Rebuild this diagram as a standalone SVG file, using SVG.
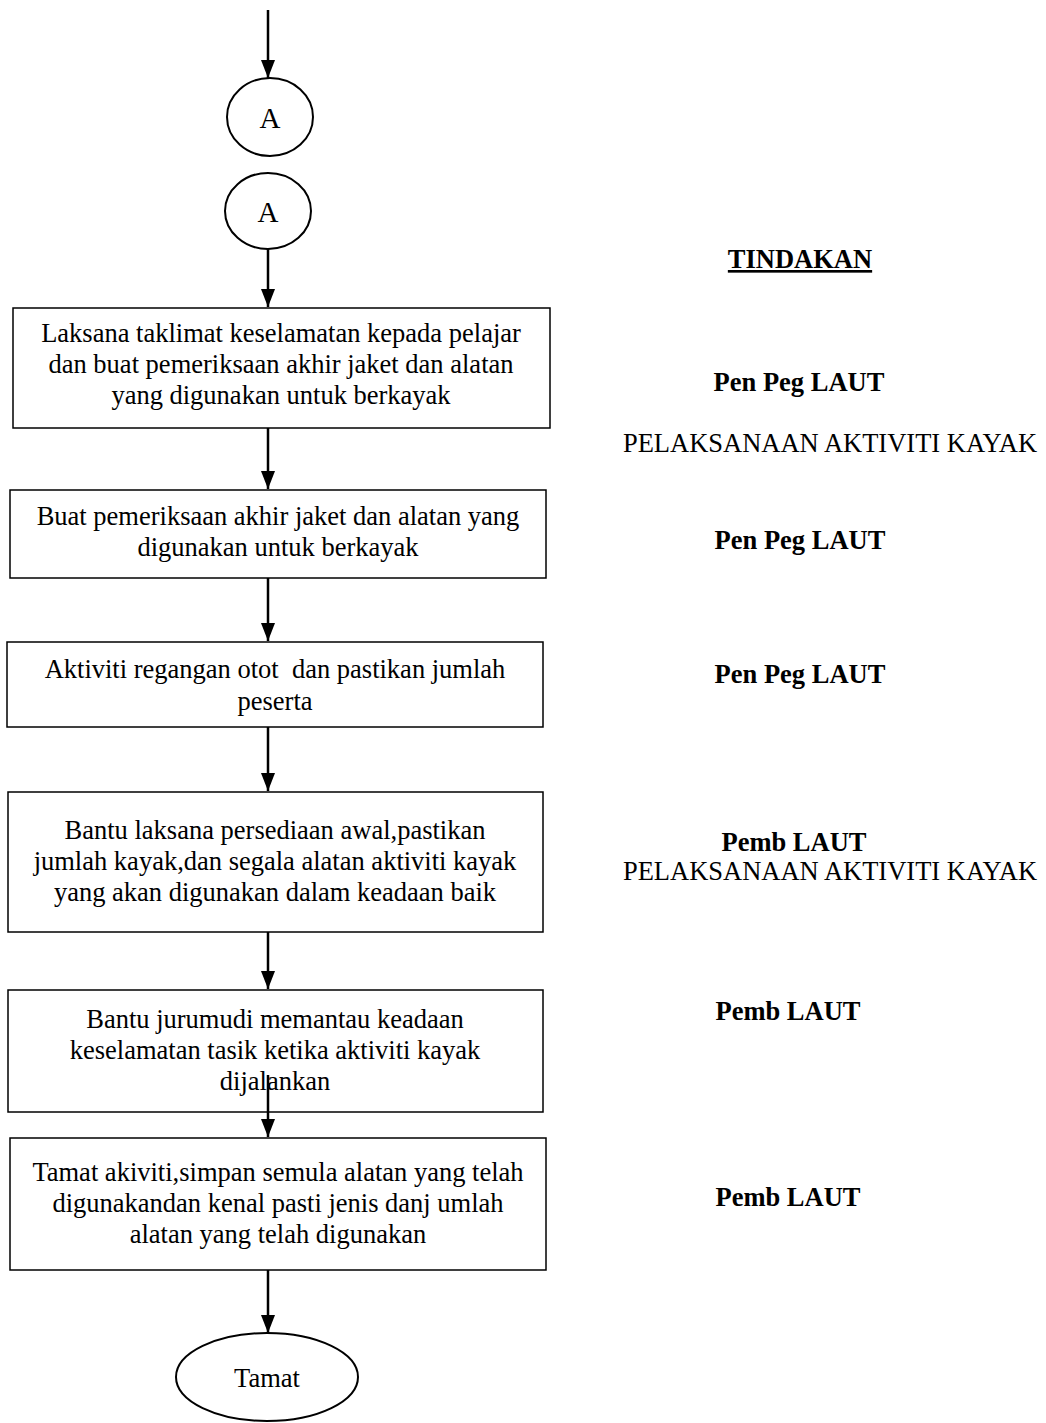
<svg xmlns="http://www.w3.org/2000/svg" width="1046" height="1423" viewBox="0 0 1046 1423">
<style>
text{font-family:"Liberation Serif","Times New Roman",serif;font-size:26.5px;fill:#000}
.c{text-anchor:middle}
.b{font-weight:bold}
.pre{white-space:pre}
.box{fill:#fff;stroke:#000;stroke-width:1.5}
.ell{fill:#fff;stroke:#000;stroke-width:2}
.con line{stroke:#000;stroke-width:2.5}
</style>
<defs>
<marker id="ah" viewBox="0 0 18 14" refX="18" refY="7" markerWidth="18" markerHeight="14" markerUnits="userSpaceOnUse" orient="auto">
<path d="M0,0 L18,7 L0,14 Z" fill="#000"/>
</marker>
</defs>
<rect width="1046" height="1423" fill="#fff"/>
<g id="nodeA1"><ellipse class="ell" cx="270" cy="117" rx="43" ry="39"/><text class="c" x="270" y="128" style="font-size:29px">A</text></g>
<g id="nodeA2"><ellipse class="ell" cx="268" cy="211" rx="43" ry="38"/><text class="c" x="268" y="222" style="font-size:29px">A</text></g>
<g id="box1"><rect class="box" x="13" y="308" width="537" height="120"/>
<text class="c" x="281" y="342">Laksana taklimat keselamatan kepada pelajar</text>
<text class="c" x="281" y="373">dan buat pemeriksaan akhir jaket dan alatan</text>
<text class="c" x="281" y="404">yang digunakan untuk berkayak</text></g>
<g id="box2"><rect class="box" x="10" y="490" width="536" height="88"/>
<text class="c" x="278" y="525">Buat pemeriksaan akhir jaket dan alatan yang</text>
<text class="c" x="278" y="556">digunakan untuk berkayak</text></g>
<g id="box3"><rect class="box" x="7" y="642" width="536" height="85"/>
<text class="c pre" x="275" y="678">Aktiviti regangan otot  dan pastikan jumlah</text>
<text class="c" x="275" y="710">peserta</text></g>
<g id="box4"><rect class="box" x="8" y="792" width="535" height="140"/>
<text class="c" x="275" y="839">Bantu laksana persediaan awal,pastikan</text>
<text class="c" x="275" y="870">jumlah kayak,dan segala alatan aktiviti kayak</text>
<text class="c" x="275" y="901">yang akan digunakan dalam keadaan baik</text></g>
<g id="box5"><rect class="box" x="8" y="990" width="535" height="122"/>
<text class="c" x="275" y="1028">Bantu jurumudi memantau keadaan</text>
<text class="c" x="275" y="1059">keselamatan tasik ketika aktiviti kayak</text>
<text class="c" x="275" y="1090">dijalankan</text></g>
<g id="box6"><rect class="box" x="10" y="1138" width="536" height="132"/>
<text class="c" x="278" y="1181">Tamat akiviti,simpan semula alatan yang telah</text>
<text class="c" x="278" y="1212">digunakandan kenal pasti jenis danj umlah</text>
<text class="c" x="278" y="1243">alatan yang telah digunakan</text></g>
<g id="nodeTamat"><ellipse class="ell" cx="267" cy="1377" rx="91" ry="44"/><text class="c" x="267" y="1387">Tamat</text></g>
<g id="labels">
<text class="c b" x="800" y="268" text-decoration="underline">TINDAKAN</text>
<text class="c b" x="799" y="391">Pen Peg LAUT</text>
<text class="c" x="830" y="452">PELAKSANAAN AKTIVITI KAYAK</text>
<text class="c b" x="800" y="549">Pen Peg LAUT</text>
<text class="c b" x="800" y="683">Pen Peg LAUT</text>
<text class="c b" x="794" y="851">Pemb LAUT</text>
<text class="c" x="830" y="880">PELAKSANAAN AKTIVITI KAYAK</text>
<text class="c b" x="788" y="1020">Pemb LAUT</text>
<text class="c b" x="788" y="1206">Pemb LAUT</text>
</g>
<g class="con" id="connectors">
<line x1="268" y1="10" x2="268" y2="78" marker-end="url(#ah)"/>
<line x1="268" y1="249" x2="268" y2="307" marker-end="url(#ah)"/>
<line x1="268" y1="428" x2="268" y2="489" marker-end="url(#ah)"/>
<line x1="268" y1="578" x2="268" y2="641" marker-end="url(#ah)"/>
<line x1="268" y1="727" x2="268" y2="791" marker-end="url(#ah)"/>
<line x1="268" y1="932" x2="268" y2="989" marker-end="url(#ah)"/>
<line x1="268" y1="1075" x2="268" y2="1137" marker-end="url(#ah)"/>
<line x1="268" y1="1270" x2="268" y2="1333" marker-end="url(#ah)"/>
</g>
</svg>
